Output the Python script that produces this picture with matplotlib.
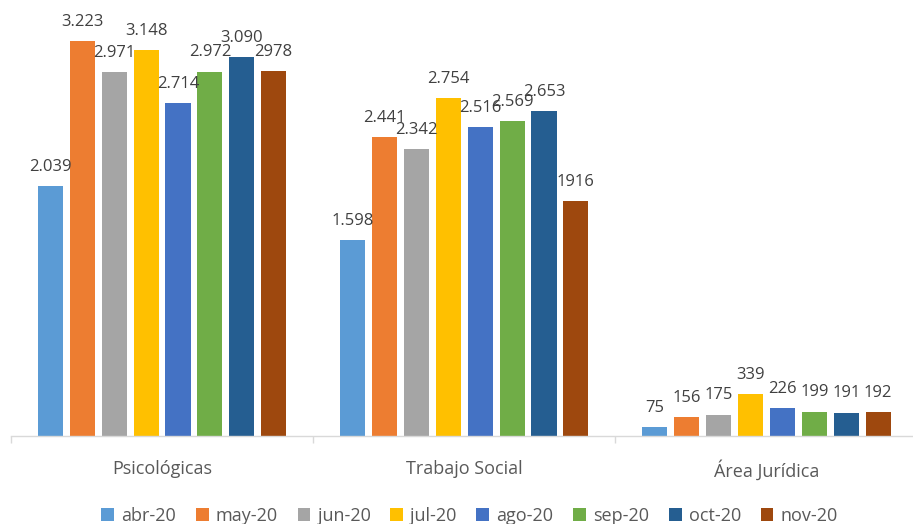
import matplotlib.pyplot as plt
import numpy as np

CATEGORIES = ["Psicológicas", "Trabajo Social", "Área Jurídica"]
MONTHS = ["abr-20", "may-20", "jun-20", "jul-20", "ago-20", "sep-20", "oct-20", "nov-20"]

# one list per month: Psicológicas, Trabajo Social, Área Jurídica
ABR = [2039, 1598, 75]
MAY = [3223, 2441, 156]
JUN = [2971, 2342, 175]
JUL = [3148, 2754, 339]
AGO = [2714, 2516, 226]
SEP = [2972, 2569, 199]
OCT = [3090, 2653, 191]
NOV = [2978, 1916, 192]

# label texts as printed on the chart
ABR_LBL = ["2.039", "1.598", "75"]
MAY_LBL = ["3.223", "2.441", "156"]
JUN_LBL = ["2.971", "2.342", "175"]
JUL_LBL = ["3.148", "2.754", "339"]
AGO_LBL = ["2.714", "2.516", "226"]
SEP_LBL = ["2.972", "2.569", "199"]
OCT_LBL = ["3.090", "2.653", "191"]
NOV_LBL = ["2978", "1916", "192"]

COLORS = ["#5B9BD5", "#ED7D31", "#A5A5A5", "#FFC000",
          "#4472C4", "#70AD47", "#255E91", "#9E480E"]

plt.rcParams["font.family"] = ["Open Sans", "DejaVu Sans"]

series = [ABR, MAY, JUN, JUL, AGO, SEP, OCT, NOV]
labels = [ABR_LBL, MAY_LBL, JUN_LBL, JUL_LBL, AGO_LBL, SEP_LBL, OCT_LBL, NOV_LBL]

fig = plt.figure(figsize=(9.13, 5.24), dpi=100)
ax = fig.add_axes([0.012, 0.168, 0.993, 0.819])

x = np.arange(len(CATEGORIES))
step = 0.1055
width = 0.083
for i, (vals, lbls, month) in enumerate(zip(series, labels, MONTHS)):
    pos = x + (i - 3.5) * step
    bars = ax.bar(pos, vals, width, color=COLORS[i], label=month, zorder=2)
    for b, t in zip(bars, lbls):
        ax.annotate(t, (b.get_x() + b.get_width() / 2, b.get_height()),
                    xytext=(0, 8), textcoords="offset points",
                    ha="center", va="bottom", fontsize=12, color="#404040")

ax.set_xlim(-0.5, 2.5)
ax.set_ylim(0, 3500)
ax.set_yticks([])
for s in ["top", "right", "left"]:
    ax.spines[s].set_visible(False)
ax.spines["bottom"].set_color("#D9D9D9")
ax.spines["bottom"].set_linewidth(1.0)

# category names centered, tick marks at group borders
ax.set_xticks(x)
ax.set_xticklabels(CATEGORIES, fontsize=13, color="#595959")
ax.tick_params(axis="x", length=0, pad=17)
ax.set_xticks([-0.5, 0.5, 1.5, 2.5], minor=True)
ax.tick_params(axis="x", which="minor", length=5, color="#D9D9D9", width=1.0)

ax.legend(loc="lower center", bbox_to_anchor=(0.506, -0.245), ncol=8,
          frameon=False, fontsize=13, handlelength=0.7, handleheight=0.7,
          handletextpad=0.4, columnspacing=1.1, labelcolor="#595959")

fig.savefig("out.png", dpi=100)
